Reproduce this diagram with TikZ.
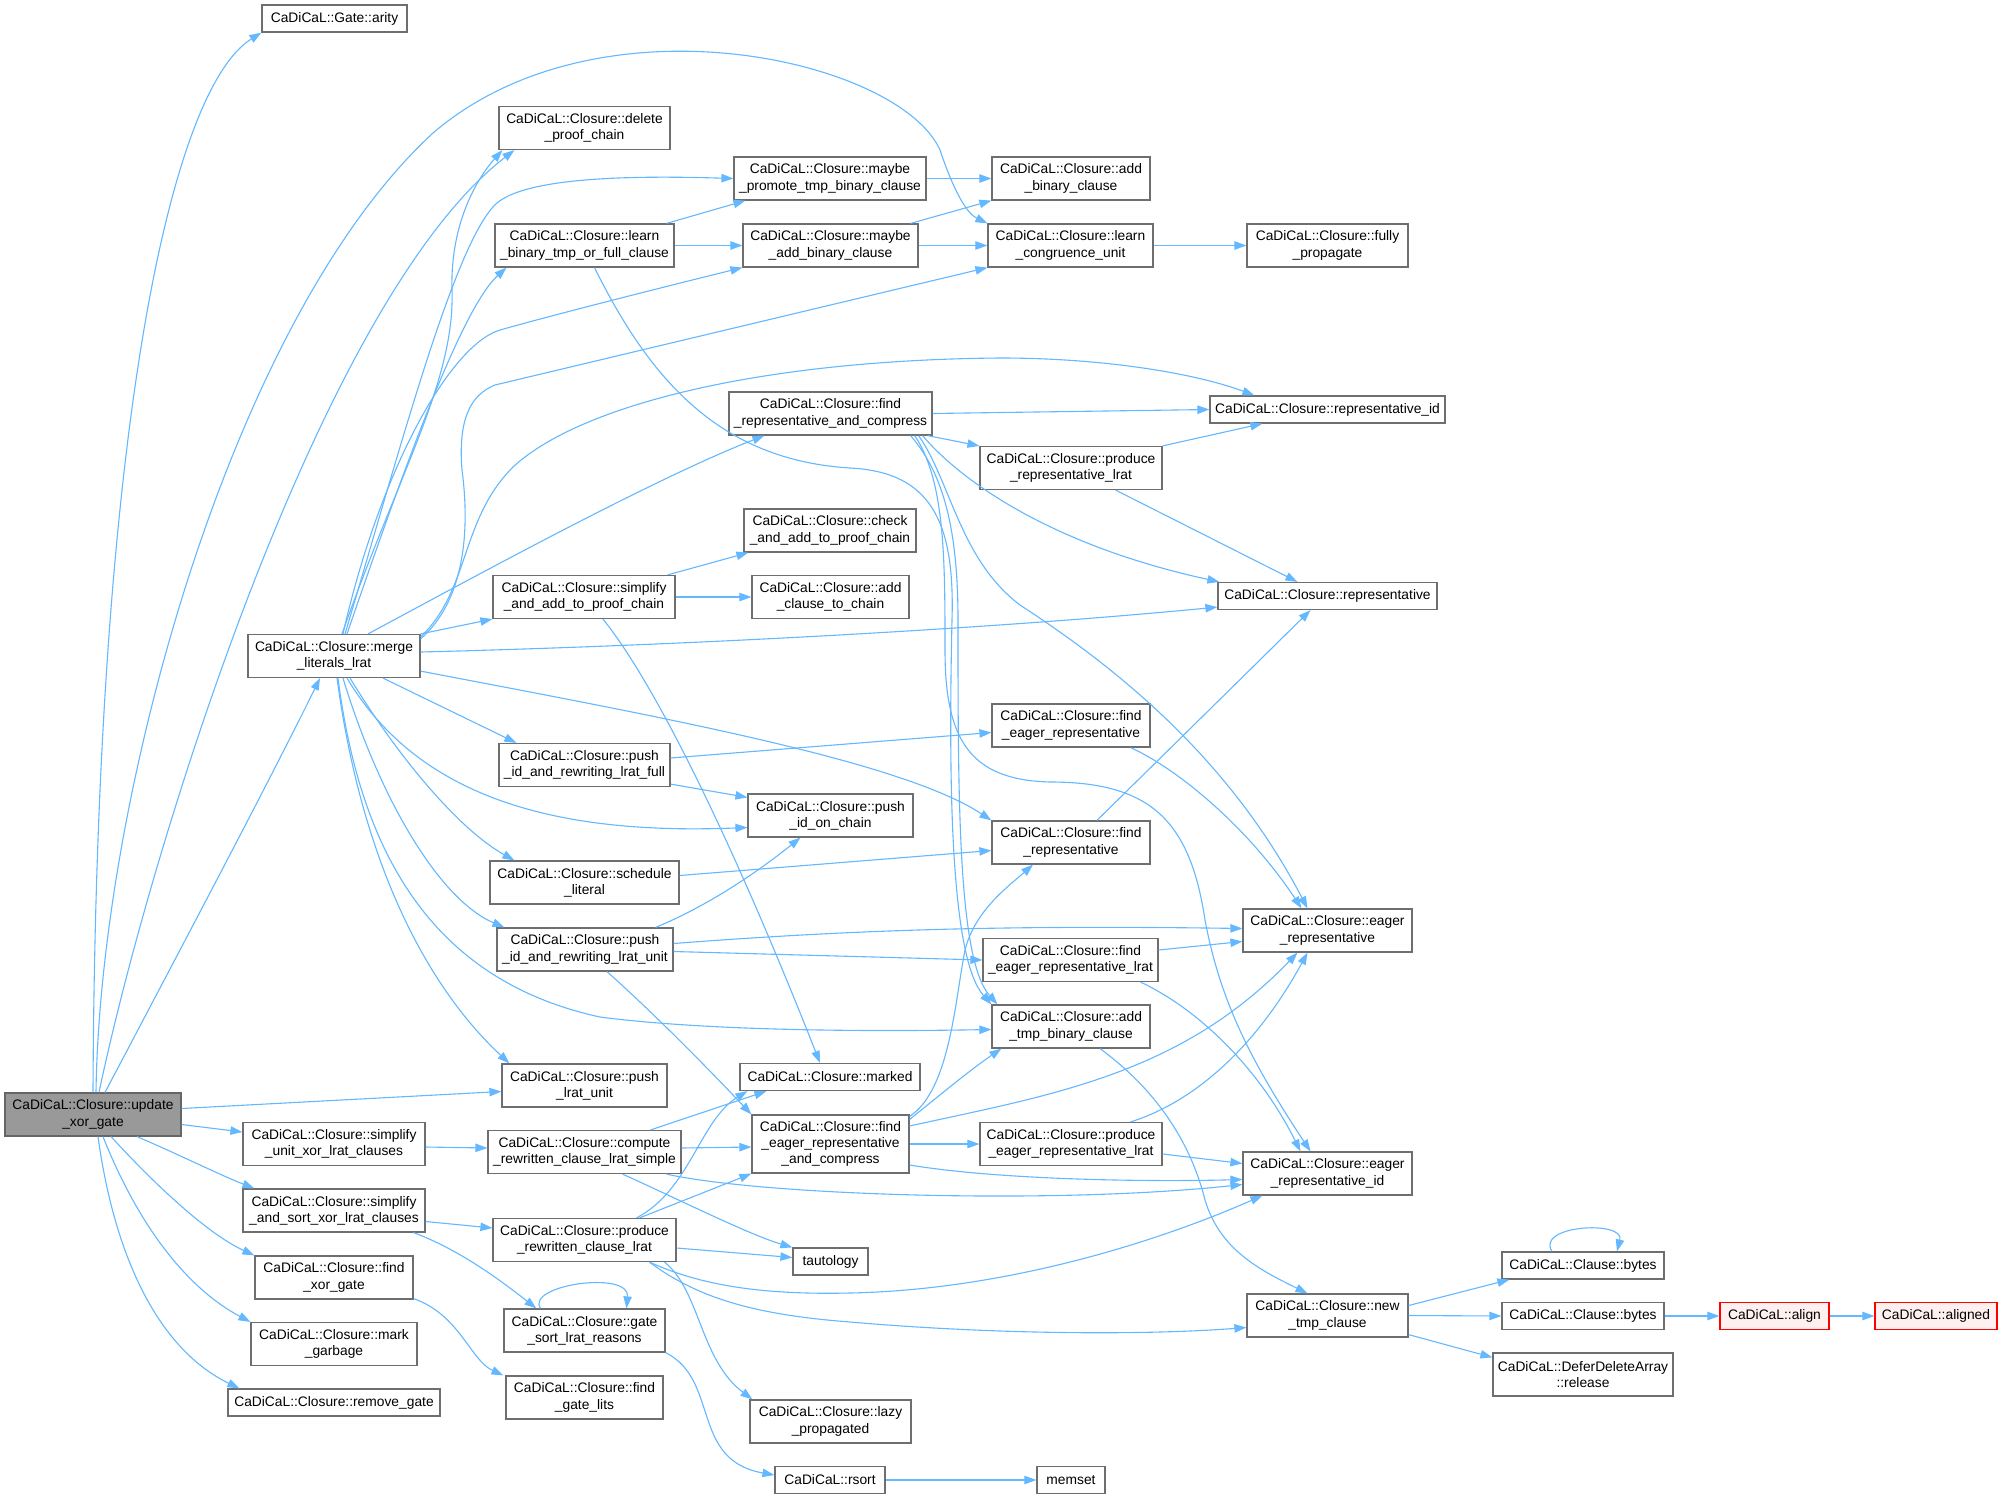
\documentclass[tikz,border=0pt]{standalone}
\usepackage{fontspec}
\setmainfont{Liberation Sans}
\usetikzlibrary{arrows.meta,calc}
\definecolor{eblue}{HTML}{63B8FF}
\definecolor{nborder}{HTML}{6E6E6E}
\definecolor{rootfill}{HTML}{999999}
\definecolor{rootborder}{HTML}{666666}
\definecolor{redfill}{HTML}{FFF0F0}
\begin{document}
\begin{tikzpicture}[x=0.5pt,y=-0.5pt,
  box/.style={rectangle, draw=nborder, fill=white, line width=0.6pt, inner sep=0pt, align=center, font=\fontsize{6.9}{8.1}\selectfont},
  rootbox/.style={box, draw=rootborder, fill=rootfill},
  redbox/.style={box, draw=red, fill=redfill},
  h1/.style={minimum height=13.5pt},
  h2/.style={minimum height=21.5pt},
  h3/.style={minimum height=29pt},
  edge/.style={draw=eblue, line width=0.55pt, -{Triangle[length=6pt,width=4.2pt]}}]
\fill[white] (0,0) rectangle (2014,1499);
\useasboundingbox (0,0) rectangle (2014,1499);

% ---------- nodes ----------
\node[box,h1,minimum width=72.5pt] (arity) at (334.5,18.5) {CaDiCaL::Gate::arity};
\node[box,h2,minimum width=85.5pt] (DPC) at (584.5,128) {CaDiCaL::Closure::delete\\\_proof\_chain};
\node[box,h2,minimum width=96pt] (MP) at (830,178.5) {CaDiCaL::Closure::maybe\\\_promote\_tmp\_binary\_clause};
\node[box,h2,minimum width=89.5pt] (L) at (584.5,245.5) {CaDiCaL::Closure::learn\\\_binary\_tmp\_or\_full\_clause};
\node[box,h2,minimum width=87.5pt] (MA) at (830.5,245.5) {CaDiCaL::Closure::maybe\\\_add\_binary\_clause};
\node[box,h2,minimum width=101.5pt] (FRC) at (830.5,413.5) {CaDiCaL::Closure::find\\\_representative\_and\_compress};
\node[box,h2,minimum width=79pt] (ABC) at (1071,178.5) {CaDiCaL::Closure::add\\\_binary\_clause};
\node[box,h2,minimum width=82.5pt] (LCU) at (1070.5,245.5) {CaDiCaL::Closure::learn\\\_congruence\_unit};
\node[box,h2,minimum width=80.5pt] (FP) at (1327.5,245.5) {CaDiCaL::Closure::fully\\\_propagate};
\node[box,h1,minimum width=117.5pt] (RID) at (1327.5,409.5) {CaDiCaL::Closure::representative\_id};
\node[box,h2,minimum width=91pt] (PRL) at (1071,468) {CaDiCaL::Closure::produce\\\_representative\_lrat};
\node[box,h2,minimum width=86pt] (M) at (334,656) {CaDiCaL::Closure::merge\\\_literals\_lrat};
\node[box,h2,minimum width=86pt] (CAP) at (830,530.5) {CaDiCaL::Closure::check\\\_and\_add\_to\_proof\_chain};
\node[box,h2,minimum width=91pt] (SAP) at (584,597) {CaDiCaL::Closure::simplify\\\_and\_add\_to\_proof\_chain};
\node[box,h2,minimum width=78.5pt] (ACC) at (830.5,597) {CaDiCaL::Closure::add\\\_clause\_to\_chain};
\node[box,h2,minimum width=85.5pt] (PF) at (584.5,765) {CaDiCaL::Closure::push\\\_id\_and\_rewriting\_lrat\_full};
\node[box,h2,minimum width=82.5pt] (PIC) at (830.5,815.5) {CaDiCaL::Closure::push\\\_id\_on\_chain};
\node[box,h2,minimum width=94.5pt] (SL) at (584.5,882.5) {CaDiCaL::Closure::schedule\\\_literal};
\node[box,h2,minimum width=88pt] (PU) at (585,949.5) {CaDiCaL::Closure::push\\\_id\_and\_rewriting\_lrat\_unit};
\node[box,h1,minimum width=109.5pt] (REP) at (1327.5,596) {CaDiCaL::Closure::representative};
\node[box,h2,minimum width=79pt] (FER) at (1071,725.5) {CaDiCaL::Closure::find\\\_eager\_representative};
\node[box,h2,minimum width=79pt] (FR) at (1071,842.5) {CaDiCaL::Closure::find\\\_representative};
\node[box,h2,minimum width=84.5pt] (ER) at (1327.5,930.5) {CaDiCaL::Closure::eager\\\_representative};
\node[box,h2,minimum width=87.5pt] (FERL) at (1070.5,960) {CaDiCaL::Closure::find\\\_eager\_representative\_lrat};
\node[rootbox,h2,minimum width=88pt] (U) at (93,1114.5) {CaDiCaL::Closure::update\\\_xor\_gate};
\node[box,h2,minimum width=91pt] (SUX) at (334,1144) {CaDiCaL::Closure::simplify\\\_unit\_xor\_lrat\_clauses};
\node[box,h2,minimum width=91pt] (SAS) at (334,1210.5) {CaDiCaL::Closure::simplify\\\_and\_sort\_xor\_lrat\_clauses};
\node[box,h2,minimum width=79pt] (FXG) at (334,1277.5) {CaDiCaL::Closure::find\\\_xor\_gate};
\node[box,h2,minimum width=83pt] (MG) at (334,1344) {CaDiCaL::Closure::mark\\\_garbage};
\node[box,h1,minimum width=106pt] (RG) at (334,1402.5) {CaDiCaL::Closure::remove\_gate};
\node[box,h2,minimum width=82.5pt] (PLU) at (584.5,1085.5) {CaDiCaL::Closure::push\\\_lrat\_unit};
\node[box,h1,minimum width=90pt] (MK) at (830,1077) {CaDiCaL::Closure::marked};
\node[box,h2,minimum width=96.5pt] (CRCLS) at (584.5,1152) {CaDiCaL::Closure::compute\\\_rewritten\_clause\_lrat\_simple};
\node[box,h3,minimum width=78.5pt] (FEC) at (830.5,1144) {CaDiCaL::Closure::find\\\_eager\_representative\\\_and\_compress};
\node[box,h2,minimum width=91.5pt] (PRCL) at (584.5,1240) {CaDiCaL::Closure::produce\\\_rewritten\_clause\_lrat};
\node[box,h1,minimum width=37.5pt] (TA) at (830.5,1261.5) {tautology};
\node[box,h2,minimum width=80.5pt] (GSR) at (584.5,1330.5) {CaDiCaL::Closure::gate\\\_sort\_lrat\_reasons};
\node[box,h2,minimum width=78.5pt] (FGL) at (584.5,1397.5) {CaDiCaL::Closure::find\\\_gate\_lits};
\node[box,h2,minimum width=80.5pt] (LP) at (830.5,1421.5) {CaDiCaL::Closure::lazy\\\_propagated};
\node[box,h1,minimum width=55pt] (rsort) at (830,1480) {CaDiCaL::rsort};
\node[box,h2,minimum width=79pt] (ATB) at (1071,1026.5) {CaDiCaL::Closure::add\\\_tmp\_binary\_clause};
\node[box,h2,minimum width=91pt] (PEL) at (1071,1144) {CaDiCaL::Closure::produce\\\_eager\_representative\_lrat};
\node[box,h2,minimum width=84.5pt] (ERI) at (1327.5,1173.5) {CaDiCaL::Closure::eager\\\_representative\_id};
\node[box,h2,minimum width=80.5pt] (NTC) at (1327.5,1315.5) {CaDiCaL::Closure::new\\\_tmp\_clause};
\node[box,h1,minimum width=34pt] (memset) at (1071,1480) {memset};
\node[box,h1,minimum width=81pt] (CB1) at (1583,1265.5) {CaDiCaL::Clause::bytes};
\node[box,h1,minimum width=81pt] (CB2) at (1583,1316) {CaDiCaL::Clause::bytes};
\node[box,h2,minimum width=90pt] (REL) at (1583,1374.5) {CaDiCaL::DeferDeleteArray\\::release};
\node[redbox,h1,minimum width=54.5pt] (align) at (1774.5,1316) {CaDiCaL::align};
\node[redbox,h1,minimum width=61pt] (aligned) at (1936,1316) {CaDiCaL::aligned};

% ---------- edges from update_xor_gate ----------
\draw[edge] (U.north) .. controls (96,430) and (170,90) .. (arity.south west);
\draw[edge] ($(U.north)+(3,0)$) .. controls (100,800) and (230,320) .. (433,133) .. controls (600,-10) and (900,60) .. (940,150) .. controls (955,195) and (968,214) .. (LCU.north west);
\draw[edge] ($(U.north)+(6,0)$) .. controls (150,850) and (320,300) .. ($(DPC.south west)+(16,0)$);
\draw[edge] ($(U.north)+(12,0)$) .. controls (180,950) and (270,780) .. ($(M.south)+(-14,0)$);
\draw[edge] ($(U.east)+(0,-6)$) -- ($(PLU.west)+(0,6)$);
\draw[edge] ($(U.east)+(0,10)$) -- ($(SUX.west)+(0,-12)$);
\draw[edge] ($(U.south)+(44,0)$) .. controls (180,1155) and (220,1175) .. ($(SAS.north west)+(12,0)$);
\draw[edge] ($(U.south)+(18,0)$) .. controls (160,1190) and (210,1235) .. (FXG.north west);
\draw[edge] ($(U.south)+(10,0)$) .. controls (140,1230) and (190,1290) .. (MG.north west);
\draw[edge] ($(U.south)+(5,0)$) .. controls (115,1260) and (160,1350) .. ($(RG.north west)+(12,0)$);

% ---------- edges from merge_literals_lrat ----------
\draw[edge] ($(M.north)+(8,0)$) .. controls (400,470) and (455,380) .. (452,290) .. controls (450,220) and (480,175) .. ($(DPC.south west)+(4,0)$);
\draw[edge] ($(M.north)+(11,0)$) .. controls (400,450) and (455,240) .. (497,203) .. controls (530,175) and (650,176) .. (MP.west);
\draw[edge] ($(M.north)+(13,0)$) .. controls (400,480) and (460,310) .. ($(L.south west)+(12,0)$);
\draw[edge] ($(M.north)+(9,0)$) .. controls (380,470) and (450,345) .. (500,330) .. controls (560,313) and (680,283) .. (MA.south west);
\draw[edge] ($(M.north east)+(0,5)$) .. controls (465,600) and (470,530) .. (462,470) .. controls (458,420) and (470,395) .. (495,385) -- (LCU.south west);
\draw[edge] ($(M.north east)+(0,3)$) .. controls (470,590) and (460,520) .. (513,467) .. controls (580,405) and (760,360) .. (1000,358) .. controls (1110,358) and (1200,375) .. ($(RID.north west)+(45,0)$);
\draw[edge] ($(M.north)+(34,0)$) .. controls (450,590) and (650,480) .. ($(FRC.south west)+(36,0)$);
\draw[edge] (M.north east) -- (SAP.south west);
\draw[edge] ($(M.east)+(0,-4)$) .. controls (700,645) and (1000,628) .. ($(REP.south west)+(0,-3)$);
\draw[edge] ($(M.south east)+(0,-7)$) .. controls (650,715) and (900,760) .. (FR.north west);
\draw[edge] ($(M.south)+(49,0)$) -- ($(PF.north west)+(18,0)$);
\draw[edge] ($(M.south)+(13,0)$) .. controls (420,800) and (560,835) .. ($(PIC.west)+(0,12)$);
\draw[edge] ($(M.south)+(16,0)$) .. controls (400,760) and (460,830) .. ($(SL.north west)+(25,0)$);
\draw[edge] ($(M.south)+(9,0)$) .. controls (380,800) and (440,900) .. ($(PU.north west)+(8,0)$);
\draw[edge] ($(M.south)+(4,0)$) .. controls (360,850) and (430,980) .. (600,1017) .. controls (700,1030) and (850,1032) .. ($(ATB.west)+(0,3)$);
\draw[edge] ($(M.south)+(3,0)$) .. controls (360,850) and (420,980) .. ($(PLU.north west)+(8,0)$);

% ---------- upper part ----------
\draw[edge] ($(L.north east)+(-8,0)$) -- ($(MP.south west)+(12,0)$);
\draw[edge] (L.east) -- (MA.west);
\draw[edge] ($(L.south)+(10,0)$) .. controls (650,380) and (720,460) .. (850,468) .. controls (930,472) and (955,520) .. (952,620) .. controls (948,800) and (952,960) .. (ATB.north west);
\draw[edge] (MP.east) -- (ABC.west);
\draw[edge] ($(MA.north east)+(-8,0)$) -- (ABC.south west);
\draw[edge] (MA.east) -- (LCU.west);
\draw[edge] (LCU.east) -- (FP.west);

% ---------- find_representative_and_compress ----------
\draw[edge] (FRC.east) -- (RID.west);
\draw[edge] ($(FRC.south east)+(-5,0)$) -- (PRL.north west);
\draw[edge] ($(FRC.south east)+(-10,0)$) .. controls (960,480) and (1050,545) .. ($(REP.north west)+(2,0)$);
\draw[edge] ($(FRC.south east)+(-14,0)$) .. controls (950,480) and (960,560) .. (1020,605) .. controls (1120,670) and (1230,760) .. ($(ER.north)+(-20,0)$);
\draw[edge] ($(FRC.south east)+(-18,0)$) .. controls (945,480) and (945,560) .. (945,650) .. controls (945,740) and (970,780) .. (1050,782) .. controls (1150,782) and (1190,820) .. (1205,920) .. controls (1220,1000) and (1250,1060) .. ($(ERI.north)+(-17,0)$);
\draw[edge] ($(FRC.south east)+(-22,0)$) .. controls (940,470) and (958,520) .. (958,620) .. controls (958,800) and (958,960) .. ($(ATB.north west)+(6,0)$);
\draw[edge] (PRL.north east) -- ($(RID.south west)+(53,0)$);
\draw[edge] ($(PRL.south east)+(-47,0)$) -- ($(REP.north)+(-30,0)$);

% ---------- middle ----------
\draw[edge] ($(SAP.north east)+(-8,0)$) -- ($(CAP.south west)+(5,0)$);
\draw[edge] (SAP.east) -- (ACC.west);
\draw[edge] ($(SAP.south)+(19,0)$) .. controls (660,690) and (740,860) .. ($(MK.north)+(-10,0)$);
\draw[edge] ($(PF.east)+(0,-7)$) -- ($(FER.west)+(0,7)$);
\draw[edge] ($(PF.south east)+(0,-3)$) -- ($(PIC.north west)+(0,4)$);
\draw[edge] ($(SL.east)+(0,-7)$) -- ($(FR.west)+(0,8)$);
\draw[edge] ($(PU.north east)+(-18,0)$) .. controls (710,905) and (760,870) .. ($(PIC.south)+(-30,0)$);
\draw[edge] ($(PU.east)+(0,-6)$) .. controls (850,930) and (1000,925) .. ($(ER.west)+(0,-2)$);
\draw[edge] ($(PU.east)+(0,2)$) -- (FERL.west);
\draw[edge] ($(PU.south)+(22,0)$) .. controls (650,1010) and (700,1060) .. (FEC.north west);
\draw[edge] ($(FER.south east)+(-20,0)$) .. controls (1180,770) and (1250,830) .. ($(ER.north)+(-26,0)$);
\draw[edge] ($(FR.north)+(26,0)$) -- ($(REP.south)+(-17,0)$);
\draw[edge] ($(FERL.east)+(0,-10)$) -- ($(ER.west)+(0,11)$);
\draw[edge] ($(FERL.south east)+(-18,0)$) .. controls (1200,1010) and (1260,1070) .. ($(ERI.north)+(-27,0)$);
\draw[edge] ($(ATB.south)+(29,0)$) .. controls (1170,1100) and (1195,1160) .. (1205,1200) .. controls (1220,1250) and (1260,1270) .. ($(NTC.north)+(-20,0)$);

% ---------- lower middle ----------
\draw[edge] ($(CRCLS.north east)+(-31,0)$) -- ($(MK.south west)+(27,0)$);
\draw[edge] ($(CRCLS.east)+(0,-4)$) -- ($(FEC.west)+(0,3)$);
\draw[edge] ($(CRCLS.south)+(38,0)$) .. controls (680,1200) and (750,1235) .. (TA.north west);
\draw[edge] ($(CRCLS.south east)+(-15,0)$) .. controls (760,1195) and (1050,1205) .. ($(ERI.west)+(0,11)$);
\draw[edge] ($(FEC.east)+(0,21)$) .. controls (1000,1180) and (1150,1182) .. ($(ERI.west)+(0,6)$);
\draw[edge] (FEC.east) -- (PEL.west);
\draw[edge] ($(FEC.north east)+(0,2)$) .. controls (950,1090) and (955,1000) .. (965,950) .. controls (975,910) and (1010,885) .. ($(FR.south)+(-38,0)$);
\draw[edge] ($(FEC.north east)+(0,5)$) .. controls (940,1095) and (970,1070) .. ($(ATB.south west)+(10,0)$);
\draw[edge] ($(FEC.east)+(0,-18)$) .. controls (1050,1095) and (1180,1075) .. ($(ER.south)+(-30,0)$);
\draw[edge] ($(PEL.north east)+(-32,0)$) .. controls (1200,1100) and (1260,1040) .. ($(ER.south)+(-20,0)$);
\draw[edge] ($(PEL.east)+(0,10)$) -- ($(ERI.west)+(0,-10)$);

\draw[edge] ($(PRCL.north)+(52,0)$) .. controls (690,1190) and (700,1120) .. ($(MK.south west)+(8,0)$);
\draw[edge] ($(PRCL.north)+(55,0)$) -- (FEC.south west);
\draw[edge] ($(PRCL.east)+(0,8)$) -- ($(TA.west)+(0,-4)$);
\draw[edge] ($(PRCL.south)+(65,0)$) .. controls (700,1285) and (760,1295) .. (850,1293) .. controls (1000,1290) and (1150,1245) .. ($(ERI.south west)+(20,0)$);
\draw[edge] ($(PRCL.south)+(65,0)$) .. controls (700,1300) and (760,1315) .. (850,1322) .. controls (1000,1335) and (1150,1335) .. ($(NTC.west)+(0,12)$);
\draw[edge] ($(PRCL.south)+(80,0)$) .. controls (700,1290) and (700,1360) .. ($(LP.north west)+(3,0)$);

\draw[edge] ($(SUX.east)+(0,3)$) -- ($(CRCLS.west)+(0,-4)$);
\draw[edge] ($(SAS.east)+(0,11)$) -- ($(PRCL.west)+(0,-12)$);
\draw[edge] ($(SAS.south east)+(-12,0)$) .. controls (460,1250) and (500,1280) .. ($(GSR.north west)+(33,0)$);
\draw[edge] ($(GSR.north)+(-44,0)$) .. controls (525,1285) and (630,1270) .. ($(GSR.north)+(42,0)$);
\draw[edge] (GSR.south east) .. controls (720,1380) and (690,1460) .. ($(rsort.west)+(0,-5)$);
\draw[edge] ($(FXG.south east)+(0,-1)$) .. controls (460,1315) and (470,1360) .. ($(FGL.north west)+(-2,0)$);
\draw[edge] (rsort.east) -- (memset.west);

% ---------- right part ----------
\draw[edge] ($(NTC.east)+(0,-10)$) -- ($(CB1.south west)+(8,0)$);
\draw[edge] (NTC.east) -- (CB2.west);
\draw[edge] ($(NTC.south east)+(0,-3)$) -- ($(REL.north west)+(0,5)$);
\draw[edge] ($(CB1.north)+(-31,0)$) .. controls (1535,1225) and (1625,1220) .. ($(CB1.north)+(34,0)$);
\draw[edge] (CB2.east) -- (align.west);
\draw[edge] (align.east) -- (aligned.west);
\end{tikzpicture}
\end{document}
